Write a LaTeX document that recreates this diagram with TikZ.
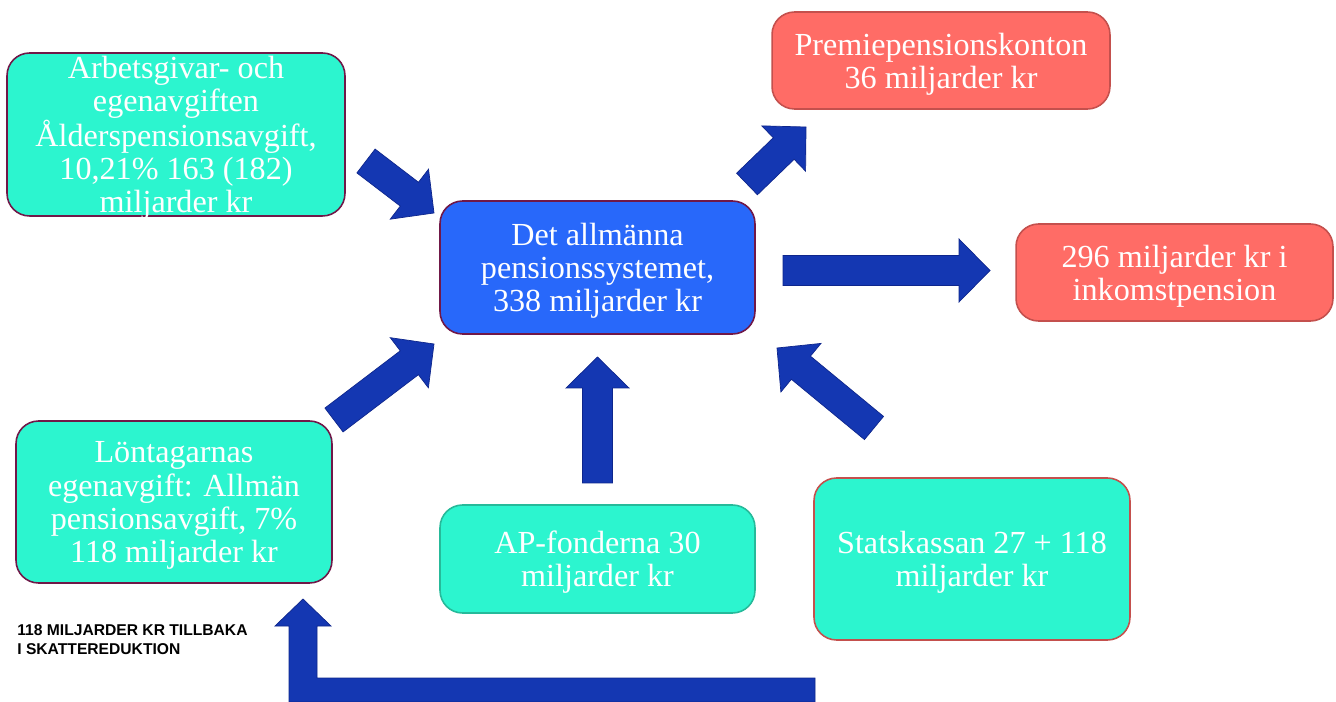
\documentclass[tikz,border=0pt]{standalone}
\usepackage{fontspec}
\setmainfont{Liberation Serif}
\newfontfamily\capsfont{Liberation Sans}
\usetikzlibrary{positioning,calc}
\definecolor{turq}{RGB}{44,245,207}
\definecolor{sysblue}{RGB}{40,104,250}
\definecolor{salmon}{RGB}{255,108,102}
\definecolor{arrblue}{RGB}{20,55,178}
\definecolor{arredge}{RGB}{14,38,140}
\definecolor{plum}{RGB}{112,24,72}
\definecolor{redline}{RGB}{196,80,77}
\definecolor{tealline}{RGB}{38,186,154}
\tikzset{
  box/.style     = {draw, line width=0.9pt, rounded corners=0.45cm, text=white,
                    align=center, inner sep=0pt, text depth=0pt,
                    font=\fontsize{18.3}{18.8}\selectfont},
  inbox/.style   = {box, fill=turq, draw=plum},
  sysbox/.style  = {box, fill=sysblue, draw=plum},
  outbox/.style  = {box, fill=salmon, draw=redline},
  barrow/.style  = {fill=arrblue, draw=arredge, line width=0.4pt, line join=miter},
  note/.style    = {font=\capsfont\bfseries\fontsize{8.9}{10.8}\selectfont, align=left,
                    inner sep=0pt, anchor=west},
}
\newcommand{\blkarrow}[2]{%
  \coordinate (hb) at ($(#2)!0.62cm!(#1)$);
  \filldraw[barrow] ($(#1)!0.3cm!90:(#2)$) -- ($(hb)!0.3cm!90:(#2)$)
    -- ($(hb)!0.63cm!90:(#2)$) -- (#2) -- ($(hb)!0.63cm!-90:(#2)$)
    -- ($(hb)!0.3cm!-90:(#2)$) -- ($(#1)!0.3cm!-90:(#2)$) -- cycle;}

\begin{document}
\begin{tikzpicture}[x=0.02cm,y=-0.02cm]
  \fill[white] (0,0) rectangle (1336,702);
  \useasboundingbox (0,0) rectangle (1336,702);

  \node[inbox, minimum width=6.76cm, minimum height=3.26cm] (avg) at (176,134.5)
    {Arbetsgivar- och\\egenavgiften\\Ålderspensionsavgift,\\10,21\% 163 (182)\\miljarder kr};
  \node[sysbox, minimum width=6.3cm, minimum height=2.66cm] (sys) at (597.5,267.5)
    {Det allmänna\\pensionssystemet,\\338 miljarder kr};
  \node[outbox, minimum width=6.76cm, minimum height=1.94cm] (ppm) at (941,60.5)
    {Premiepensionskonton\\36 miljarder kr};
  \node[outbox, minimum width=6.34cm, minimum height=1.94cm] (ink) at (1174.5,272.5)
    {296 miljarder kr i\\inkomstpension};
  \node[inbox, minimum width=6.32cm, minimum height=3.24cm] (lon) at (174,502)
    {Löntagarnas\\egenavgift: Allmän\\pensionsavgift, 7\%\\118 miljarder kr};
  \node[inbox, draw=tealline, minimum width=6.3cm, minimum height=2.16cm] (apf) at (597.5,559)
    {AP-fonderna 30\\miljarder kr};
  \node[inbox, draw=redline, minimum width=6.32cm, minimum height=3.24cm] (sta) at (972,559)
    {Statskassan 27 + 118\\miljarder kr};
  \node[note] (skr) at (17,640) {118 MILJARDER KR TILLBAKA\\I SKATTEREDUKTION};

  \coordinate (a1t) at (366,161);   \coordinate (a1h) at (434,213);
  \coordinate (a2t) at (334,420);   \coordinate (a2h) at (434,344);
  \coordinate (a3t) at (597.5,483); \coordinate (a3h) at (597.5,357);
  \coordinate (a4t) at (874,428);   \coordinate (a4h) at (777,348);
  \coordinate (a5t) at (747,184);   \coordinate (a5h) at (806,127);
  \coordinate (a6t) at (783,270.5); \coordinate (a6h) at (990,270.5);
  \blkarrow{a1t}{a1h}
  \blkarrow{a2t}{a2h}
  \blkarrow{a3t}{a3h}
  \blkarrow{a4t}{a4h}
  \blkarrow{a5t}{a5h}
  \blkarrow{a6t}{a6h}

  \coordinate (rt) at (815,702); \coordinate (rh) at (303,599);
  \filldraw[barrow] (rt) -- (815,678) -- (317,678) -- (317,626) -- (331,626)
    -- (rh) -- (275,626) -- (289,626) -- (289,702) -- cycle;
\end{tikzpicture}
\end{document}
